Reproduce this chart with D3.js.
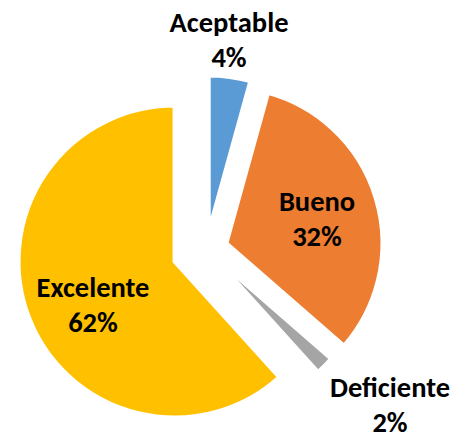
<!DOCTYPE html>
<html>
<head>
<meta charset="utf-8">
<script src="https://cdn.jsdelivr.net/npm/d3@7"></script>
<style>
  html, body { margin: 0; padding: 0; background: #ffffff; }
  svg { display: block; }
  text { font-family: Carlito, Lato, "Open Sans", sans-serif; font-weight: bold; fill: #000; }
</style>
</head>
<body>
<div id="chart"></div>
<script>
// ---- data ----
const categories = ["Aceptable", "Bueno", "Deficiente", "Excelente"];
const values = [4.3, 32.1, 1.9, 61.7];
const percentLabels = ["4%", "32%", "2%", "62%"];
const colors = ["#5B9BD5", "#ED7D31", "#A5A5A5", "#FFC000"];

// ---- layout ----
const W = 454, H = 432;
const cx = 206.3, cy = 249.3, R = 156;
const explode = [18, 21, 10, 34];
const labelPos = [[229, 31.7], [317, 210.7], [390, 396.7], [93, 296.7]];
const lineGap = 35;
const fontSize = 28.5;

const svg = d3.select("#chart").append("svg")
  .attr("width", W).attr("height", H);

const pie = d3.pie().sort(null).value(d => d).startAngle(0).endAngle(2 * Math.PI);
const arcs = pie(values);
const arc = d3.arc().innerRadius(0).outerRadius(R);

svg.append("g").selectAll("path")
  .data(arcs)
  .join("path")
  .attr("d", arc)
  .attr("fill", (d, i) => colors[i])
  .attr("stroke", "#ffffff")
  .attr("stroke-width", 4)
  .attr("transform", (d, i) => {
    const mid = (d.startAngle + d.endAngle) / 2;
    const x = cx + explode[i] * Math.sin(mid);
    const y = cy - explode[i] * Math.cos(mid);
    return `translate(${x},${y})`;
  });

const labels = svg.append("g").selectAll("text")
  .data(arcs)
  .join("text")
  .attr("text-anchor", "middle")
  .attr("font-size", fontSize);

labels.append("tspan")
  .attr("x", (d, i) => labelPos[i][0])
  .attr("y", (d, i) => labelPos[i][1])
  .text((d, i) => categories[i]);
labels.append("tspan")
  .attr("x", (d, i) => labelPos[i][0])
  .attr("y", (d, i) => labelPos[i][1] + lineGap)
  .text((d, i) => percentLabels[i]);
</script>
</body>
</html>
